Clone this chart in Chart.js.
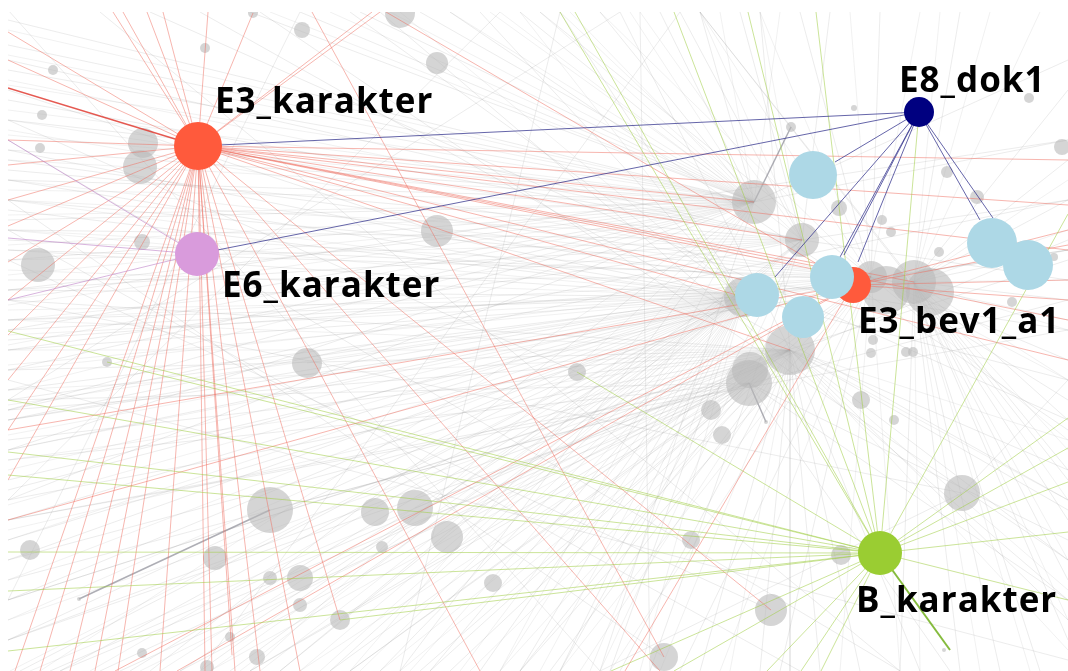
<!DOCTYPE html>
<html><head><meta charset="utf-8">
<script src="https://cdn.jsdelivr.net/npm/chart.js@4.4.1/dist/chart.umd.min.js"></script>
<style>html,body{margin:0;padding:0;background:#fff;overflow:hidden}canvas{display:block}</style>
</head><body>
<canvas id="c" width="1068" height="671"></canvas>
<script>
// ---------- DATA (layout coordinates) ----------
const keyNames = ['E3_karakter','E6_karakter','E8_dok1','E3_bev1_a1','B_karakter'];
const keyX     = [198, 197, 919, 853, 880];
const keyY     = [146, 254, 112, 285, 553];
const keyDeg   = [24, 22, 15, 18, 22];

const blueX   = [813, 992, 1028, 757, 803, 832];
const blueY   = [175, 243, 265, 295, 317, 277];
const blueDeg = [24, 25, 25, 22, 21, 22];

const greyX = [53,205,302,437,42,40,143,140,38,142,437,400,253,
  307,107,270,375,415,447,382,493,30,215,300,270,300,340,142,230,257,207,79,
  577,749,790,711,722,861,871,906,894,962,691,841,771,664,944,766,
  854,791,754,802,839,882,891,947,977,1029,1062,744,914,871,939,1012,1054,873,913,750,886,930];
const greyY = [70,48,30,63,115,148,143,167,265,242,231,13,13,
  363,362,510,512,508,537,547,583,550,558,578,578,605,620,653,637,657,667,599,
  372,383,350,410,435,400,353,352,420,493,540,555,610,657,650,422,
  108,127,202,240,208,220,232,172,197,98,147,297,282,277,252,302,257,340,352,370,290,292];
const greyDeg = [5,5,8,11,5,5,15,17,17,8,16,15,5,
  15,5,23,14,18,16,6,9,10,12,13,7,7,10,5,5,8,7,2,
  9,23,25,10,9,9,5,5,5,18,9,10,16,14,2,2,
  3,5,22,17,8,5,5,6,7,5,8,20,22,16,5,5,4,5,5,18,24,24];

// edges of the highlighted nodes: target points
const e3Targets = [[113,12],[123,12],[147,12],[163,12],[208,12],[253,13],[372,12],[380,12],
  [8,32],[8,60],[8,140],[8,165],[8,200],[8,226],[8,262],[8,300],[8,335],[8,380],[8,430],[8,480],
  [15,671],[40,671],[70,671],[95,671],[118,671],[160,671],[205,671],[212,671],[232,655],[235,671],[260,671],[340,620],[300,671],
  [660,671],[771,610],[480,671],
  [1068,160],[1068,205],[1068,250],[754,202],[744,297],[871,277],[914,282],[790,350],[1068,320],[1068,360],[802,240]];
const e3Strong = [[8,88]];
const bevTargets = [[386,12],[177,671],[115,671],[625,671],[8,430],[8,520],[1068,230],[1068,280],[1068,300],[1068,245]];
const redLoose = [[300,-10,664,657]];
const e6Targets = [[8,140],[8,238],[8,300]];
const e8Targets = [[198,146],[197,254],[835,162],[775,277],[840,257],[844,255],[858,262],[980,220],[993,218]];
const bTargets = [[8,552],[8,452],[107,362],[340,620],[8,651],[8,331],[8,400],[8,475],[8,591],
  [577,372],[575,12],[560,12],[674,12],[748,12],[816,12],[919,112],[1068,214],
  [1068,418],[1068,448],[1068,482],[1068,532],[611,671],[674,671],[767,671],[801,671],[821,671],[1068,600]];
const bStrong = [[950,650]];

// background edges [x1,y1,x2,y2]
const greyEdges = [
 [754,202,8,20],[754,202,8,70],[754,202,8,120],[754,202,8,180],[754,202,8,260],[754,202,8,330],[754,202,8,410],[754,202,8,500],
 [754,202,300,12],[754,202,420,12],[754,202,520,12],[754,202,600,12],[754,202,660,12],[754,202,700,12],[754,202,1068,60],[754,202,1068,140],
 [754,202,150,671],[754,202,400,671],[754,202,600,671],
 [744,297,8,150],[744,297,8,210],[744,297,8,290],[744,297,8,350],[744,297,8,390],[744,297,8,450],[744,297,8,520],[744,297,8,600],
 [744,297,60,671],[744,297,180,671],[744,297,280,671],[744,297,380,671],[744,297,480,671],[744,297,560,671],[744,297,350,12],[744,297,480,12],
 [744,297,560,12],[744,297,1068,250],[744,297,1068,380],
 [790,350,8,300],[790,350,8,370],[790,350,8,440],[790,350,8,560],[790,350,8,640],[790,350,100,671],[790,350,250,671],[790,350,450,671],
 [790,350,700,671],[790,350,860,671],[790,350,1068,470],[790,350,1068,560],[790,350,620,12],[790,350,760,12],
 [914,282,1068,200],[914,282,1068,300],[914,282,1068,420],[914,282,1068,520],[914,282,1068,640],[914,282,1000,671],[914,282,900,671],
 [914,282,1068,90],[914,282,960,12],[914,282,700,12],[914,282,8,240],[914,282,8,330],[914,282,8,420],
 [871,277,8,200],[871,277,8,280],[871,277,8,480],[871,277,330,671],[871,277,520,671],[871,277,780,671],[871,277,1068,360],
 [871,277,880,12],[871,277,800,12],[871,277,540,12],
 [802,240,8,100],[802,240,8,230],[802,240,8,350],[802,240,200,671],[802,240,650,671],[802,240,1068,280],[802,240,740,12],[802,240,830,12],
 [749,383,8,400],[749,383,8,580],[749,383,120,671],[749,383,430,671],[749,383,1068,600],[749,383,950,671],
 [200,12,1068,500],[100,12,900,671],[450,12,1068,430],[8,10,600,671],[8,380,1068,660],[300,12,8,600],
 [962,493,1068,380],[962,493,600,671],[962,493,8,300],[664,657,8,200],[771,610,8,260],[577,372,8,120],
 [437,231,8,90],[437,231,1068,330],[307,363,1068,250],[270,510,1068,300],[415,508,1068,240],
 [754,202,8,45],[754,202,8,150],[754,202,8,220],[754,202,8,290],[754,202,8,370],[754,202,8,450],[754,202,250,12],[754,202,360,12],
 [744,297,8,180],[744,297,8,250],[744,297,8,320],[744,297,8,420],[744,297,8,490],[744,297,8,560],[744,297,8,640],[744,297,20,671],
 [744,297,130,671],[744,297,230,671],[744,297,330,671],[744,297,430,671],[744,297,520,671],[744,297,610,671],
 [790,350,8,410],[790,350,8,500],[790,350,8,600],[790,350,50,671],[790,350,180,671],[790,350,350,671],[790,350,550,671],[790,350,620,671],
 [790,350,760,671],[790,350,820,671],[790,350,1068,510],[790,350,1068,620],[790,350,920,671],
 [871,277,8,160],[871,277,8,250],[871,277,8,340],[871,277,8,400],[871,277,8,540],[871,277,420,671],[871,277,680,671],[871,277,1068,400],
 [914,282,1068,250],[914,282,1068,470],[914,282,1068,580],[914,282,960,671],[914,282,1040,671],[914,282,1068,160],
 [802,240,8,60],[802,240,8,170],[802,240,8,290],[802,240,8,410],[802,240,280,671],[802,240,560,671],[802,240,1068,200],[802,240,680,12],
 [749,383,8,460],[749,383,8,520],[749,383,8,640],[749,383,60,671],[749,383,250,671],[749,383,350,671],[749,383,520,671],[749,383,1068,540],
 [150,12,1068,420],[260,12,1068,560],[380,12,1068,600],[8,140,900,671],[8,230,800,671],[500,12,8,500],[620,12,8,400],[680,12,200,671],
 [560,12,400,671],[640,12,650,671],[700,12,1068,480],[8,300,1068,140],[8,420,1068,200],[8,520,1068,330],[8,600,1068,260]
];
const greyStrong = [[270,510,79,599],[749,383,766,422],[754,202,791,127]];

// faint background fans: hub nodes and where their edges leave the view
const fanHubX = [754, 744, 790, 871, 914, 802];
const fanHubY = [202, 297, 350, 277, 282, 240];
const fanLeftY = [
  [30,55,85,110,135,160,190,215,245,275,305,345,390],
  [200,230,270,310,335,365,405,435,470,505,540,580,620],
  [320,350,390,460,530,620],
  [130,180,230,320,370,450],
  [],
  [80,120,200,260,320]];
const fanTopX = [
  [270,330,390,450,490,540,570,630,720,780],
  [400,520],
  [],
  [600,700,760,850,920],
  [940,990,1040],
  [500,560,640,700,760]];
const fanBottomX = [
  [40,250,350,500],
  [10,90,160,210,260,300,360,410,460,500,540,590,640],
  [30,140,210,300,400,500,580,660,730,790],
  [380,470,560,610,720,840,900],
  [920,980,1030],
  [240,320,600]];
const fanRightY = [
  [],
  [],
  [440,500,590,650],
  [320,380,440],
  [180,230,280,330,380,450,500,560,620],
  []];

// ---------- BUILD ----------
function star(sx, sy, targets) {
  const d = [];
  targets.forEach(t => { d.push({x:sx,y:sy},{x:t[0],y:t[1]},{x:null,y:null}); });
  return d;
}
function segs(list) {
  const d = [];
  list.forEach(s => { d.push({x:s[0],y:s[1]},{x:s[2],y:s[3]},{x:null,y:null}); });
  return d;
}
function fans() {
  const d = [];
  fanHubX.forEach((hx,i) => {
    const hy = fanHubY[i];
    const t = [];
    fanLeftY[i].forEach(v => t.push([8,v]));
    fanTopX[i].forEach(v => t.push([v,12]));
    fanBottomX[i].forEach(v => t.push([v,671]));
    fanRightY[i].forEach(v => t.push([1068,v]));
    d.push(...star(hx, hy, t));
  });
  return d;
}
function bubbles(xs, ys, rs) { return xs.map((x,i)=>({x, y:ys[i], r:rs[i]})); }

const lineBase = {type:'line', pointRadius:0, pointHoverRadius:0, borderWidth:1, tension:0, spanGaps:false, clip:0, fill:false};

const datasets = [
  Object.assign({}, lineBase, {data:fans(), borderColor:'rgba(150,150,150,0.13)', order:21}),
  Object.assign({}, lineBase, {data:segs(greyEdges), borderColor:'rgba(150,150,150,0.18)', order:20}),
  Object.assign({}, lineBase, {data:segs(greyStrong), borderColor:'rgba(140,140,150,0.7)', borderWidth:1.5, order:19}),
  {type:'bubble', data:bubbles(greyX,greyY,greyDeg), backgroundColor:'rgba(185,185,185,0.6)', borderWidth:0, clip:0, order:15},
  Object.assign({}, lineBase, {data:star(keyX[0],keyY[0],e3Targets), borderColor:'rgba(240,110,95,0.5)', order:10}),
  Object.assign({}, lineBase, {data:star(keyX[0],keyY[0],e3Strong), borderColor:'rgba(225,60,50,0.85)', borderWidth:1.5, order:9}),
  Object.assign({}, lineBase, {data:star(keyX[3],keyY[3],bevTargets), borderColor:'rgba(240,110,95,0.5)', order:10}),
  Object.assign({}, lineBase, {data:segs(redLoose), borderColor:'rgba(240,110,95,0.5)', order:10}),
  Object.assign({}, lineBase, {data:star(keyX[1],keyY[1],e6Targets), borderColor:'rgba(190,130,200,0.6)', order:9}),
  Object.assign({}, lineBase, {data:star(keyX[4],keyY[4],bTargets), borderColor:'rgba(160,205,70,0.55)', order:9}),
  Object.assign({}, lineBase, {data:star(keyX[4],keyY[4],bStrong), borderColor:'rgba(120,180,40,0.9)', borderWidth:2, order:8}),
  Object.assign({}, lineBase, {data:star(keyX[2],keyY[2],e8Targets), borderColor:'rgba(50,50,140,0.75)', order:7}),
  {type:'bubble', data:bubbles(keyX,keyY,keyDeg), backgroundColor:['#ff5a3c','#d99bdc','#000080','#ff5a3c','#9acd32'], borderWidth:0, clip:0, order:2},
  {type:'bubble', data:bubbles(blueX,blueY,blueDeg), backgroundColor:'#add8e6', borderWidth:0, clip:0, order:1}
];

const labelOffsets = [[17,-33],[25,43],[-20,-20],[5,48],[-24,59]];
const nodeLabels = {
  id:'nodeLabels',
  afterDatasetsDraw(chart) {
    const {ctx, scales:{x, y}} = chart;
    ctx.save();
    ctx.font = 'bold 35px "Open Sans"';
    if ('letterSpacing' in ctx) ctx.letterSpacing = '1px';
    ctx.fillStyle = '#000';
    ctx.textAlign = 'left';
    ctx.textBaseline = 'alphabetic';
    keyNames.forEach((n,i) => {
      ctx.fillText(n, x.getPixelForValue(keyX[i]) + labelOffsets[i][0], y.getPixelForValue(keyY[i]) + labelOffsets[i][1]);
    });
    ctx.restore();
  }
};

new Chart(document.getElementById('c'), {
  type:'scatter',
  data:{datasets},
  options:{
    responsive:false, animation:false, devicePixelRatio:1, events:[],
    layout:{autoPadding:false, padding:{left:8, top:12, right:0, bottom:0}},
    plugins:{legend:{display:false}, tooltip:{enabled:false}},
    scales:{
      x:{type:'linear', min:8, max:1068, display:false},
      y:{type:'linear', min:12, max:671, reverse:true, display:false}
    }
  },
  plugins:[nodeLabels]
});
</script>
</body></html>
